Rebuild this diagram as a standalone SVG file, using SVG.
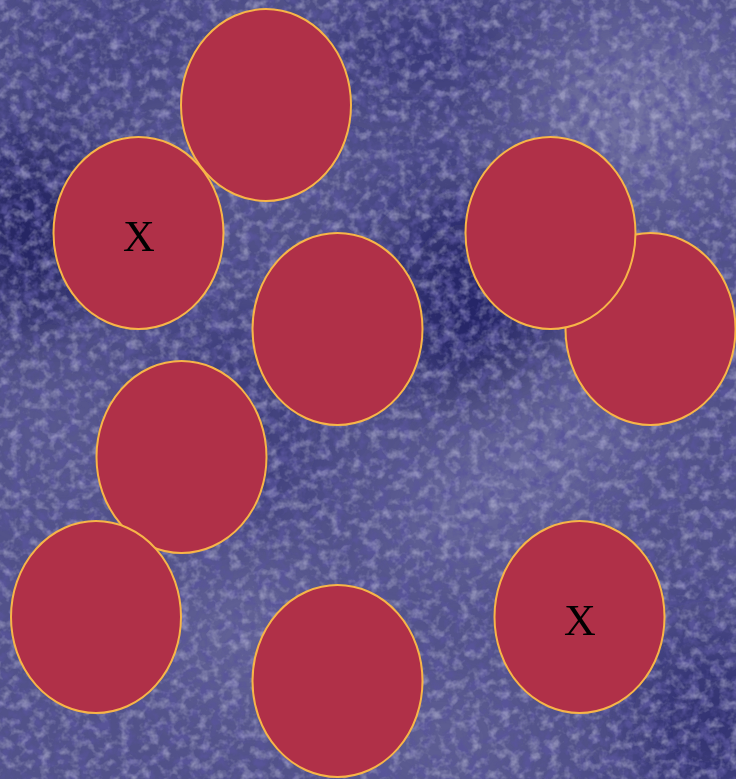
<svg xmlns="http://www.w3.org/2000/svg" width="736" height="779" viewBox="0 0 736 779">
<style>
.node ellipse{fill:#b03048;stroke:#f7b548;stroke-width:2}
.node text{font-family:"Liberation Serif","Times New Roman",serif;font-size:44px;fill:#000;text-anchor:middle}
</style>
<defs>
<filter id="blur" x="-50%" y="-50%" width="200%" height="200%"><feGaussianBlur stdDeviation="40"/></filter>
<filter id="darkSpeck" x="0" y="0" width="100%" height="100%">
<feTurbulence type="fractalNoise" baseFrequency="0.09" numOctaves="3" seed="4"/>
<feColorMatrix type="matrix" values="0 0 0 0 0.1  0 0 0 0 0.09  0 0 0 0 0.33  3 0 0 0 -1.3"/>
</filter>
<filter id="lightSpeck" x="0" y="0" width="100%" height="100%">
<feTurbulence type="fractalNoise" baseFrequency="0.1" numOctaves="3" seed="11"/>
<feColorMatrix type="matrix" values="0 0 0 0 0.62  0 0 0 0 0.62  0 0 0 0 0.8  2.5 0 0 0 -1.15"/>
</filter>
</defs>
<g id="background">
<rect width="736" height="779" fill="#52528a"/>
<g filter="url(#blur)">
<ellipse cx="30" cy="230" rx="70" ry="110" fill="#16165a" opacity="0.85"/>
<ellipse cx="120" cy="40" rx="120" ry="60" fill="#3a3a7a" opacity="0.6"/>
<ellipse cx="470" cy="300" rx="90" ry="110" fill="#1c1c5e" opacity="0.8"/>
<ellipse cx="420" cy="50" rx="110" ry="50" fill="#2a2a6c" opacity="0.6"/>
<ellipse cx="710" cy="720" rx="80" ry="90" fill="#22226a" opacity="0.7"/>
<ellipse cx="230" cy="420" rx="90" ry="120" fill="#2c2c6e" opacity="0.5"/>
<ellipse cx="640" cy="110" rx="100" ry="80" fill="#8c8cb4" opacity="0.6"/>
<ellipse cx="520" cy="470" rx="150" ry="60" fill="#8080ae" opacity="0.55" transform="rotate(-35 520 470)"/>
<ellipse cx="250" cy="640" rx="90" ry="70" fill="#7a7aa8" opacity="0.45"/>
<ellipse cx="60" cy="430" rx="60" ry="70" fill="#6a6a9c" opacity="0.4"/>
<ellipse cx="440" cy="740" rx="80" ry="50" fill="#7a7aa8" opacity="0.4"/>
</g>
<rect width="736" height="779" filter="url(#darkSpeck)" opacity="0.9"/>
<rect width="736" height="779" filter="url(#lightSpeck)" opacity="0.45"/>
</g>
<g id="n1" class="node"><ellipse cx="266" cy="105" rx="85" ry="96"/></g>
<g id="n2" class="node"><ellipse cx="138.5" cy="233" rx="85" ry="96"/><text x="139" y="251">X</text></g>
<g id="n3" class="node"><ellipse cx="337.5" cy="329" rx="85" ry="96"/></g>
<g id="n5" class="node"><ellipse cx="650.5" cy="329" rx="85" ry="96"/></g>
<g id="n4" class="node"><ellipse cx="550.5" cy="233" rx="85" ry="96"/></g>
<g id="n6" class="node"><ellipse cx="181.5" cy="457" rx="85" ry="96"/></g>
<g id="n7" class="node"><ellipse cx="96" cy="617" rx="85" ry="96"/></g>
<g id="n8" class="node"><ellipse cx="337.5" cy="681" rx="85" ry="96"/></g>
<g id="n9" class="node"><ellipse cx="579.5" cy="617" rx="85" ry="96"/><text x="580" y="635">X</text></g>
<g id="connectors"></g>
</svg>
